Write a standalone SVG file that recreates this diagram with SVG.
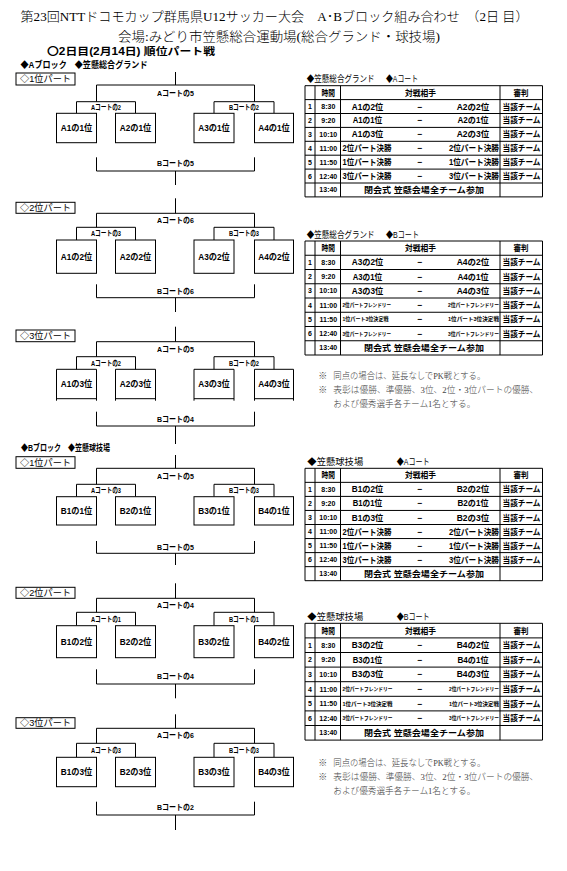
<svg xmlns="http://www.w3.org/2000/svg" width="567" height="871" viewBox="0 0 567 871">
<style>
text{dominant-baseline:central;fill:#000}
.s{font-family:"Liberation Serif","Noto Sans CJK JP",serif;font-weight:300}
.g{font-family:"Liberation Sans","Noto Sans CJK JP",sans-serif}
.b{font-weight:700}
.c{text-anchor:middle}
.e{text-anchor:end}
.ln{fill:none;stroke:#000;stroke-width:1}
.bx{fill:#fff;stroke:#000;stroke-width:1}
.t1{font-size:13px}
.t2{font-size:13px}
.h10{font-size:10px}
.h9{font-size:9px}
.lb{font-size:9px}
.bl{font-size:9px}
.tl{font-size:8px}
.sl{font-size:7.5px}
.th{font-size:9px}
.cell{font-size:8.5px}
.num{font-size:7px}
.tm{font-size:7px}
.sm{font-size:5.5px}
.nt{font-size:9px;fill:#444}
</style>
<rect width="567" height="871" fill="#fff"/>

<g id="title">
<text class="s t1" x="20.5" y="16" textLength="508" lengthAdjust="spacingAndGlyphs">第23回NTTドコモカップ群馬県U12サッカー大会　A･Bブロック組み合わせ　（2日 目）</text>
<text class="s t2" x="118" y="36" textLength="322" lengthAdjust="spacingAndGlyphs">会場:みどり市笠懸総合運動場(総合グランド・球技場)</text>
<text class="g b h10" x="47" y="51" textLength="168" lengthAdjust="spacingAndGlyphs">〇2日目(2月14日) 順位パート戦</text>
<text class="g b h9" x="20.5" y="64.5" textLength="127" lengthAdjust="spacingAndGlyphs">◆Aブロック　◆笠懸総合グランド</text>
<text class="g b h9" x="21" y="448.3" textLength="89" lengthAdjust="spacingAndGlyphs">◆Bブロック　◆笠懸球技場</text>
</g>

<!-- connectors -->
<g id="connectors" class="ln">
<path d="M175.5 72V85M96.5 101.7V85H254.5V101.7M76.5 113.3V101.7H135.5V113.3M214 113.3V101.7H274V113.3M96.5 157.3V171H254.5V157.3M175.5 171V185"/>
<path d="M175.5 198.3V213.3M96.5 227.3V213.3H254.5V227.3M76.5 240V227.3H135.5V240M214 240V227.3H274V240M96.5 284.3V297.7H254.5V284.3M175.5 297.7V312"/>
<path d="M175.5 326.7V341.7M96.5 356.7V341.7H254.5V356.7M76.5 369.3V356.7H135.5V369.3M214 369.3V356.7H274V369.3M96.5 411.7V426H254.5V411.7M175.5 426V444"/>
<path d="M175.5 455V468.3M96.5 484.3V468.3H254.5V484.3M76.5 496.7V484.3H135.5V496.7M214 496.7V484.3H274V496.7M96.5 541V553.3H254.5V541M175.5 553.3V565"/>
<path d="M175.5 583.3V598.3M96.5 612.3V598.3H254.5V612.3M76.5 625.7V612.3H135.5V625.7M214 625.7V612.3H274V625.7M96.5 669.3V684H254.5V669.3M175.5 684V698.3"/>
<path d="M175.5 714.3V728.3M96.5 743.3V728.3H254.5V743.3M76.5 757.3V743.3H135.5V757.3M214 757.3V743.3H274V757.3M96.5 801.7V815H254.5V801.7M175.5 815V830"/>
</g>

<!-- bracket labels -->
<g id="court-labels" class="g b">
<text class="tl c" x="175.5" y="93.3" textLength="37" lengthAdjust="spacingAndGlyphs">Aコートの5</text>
<text class="sl c" x="106" y="107.5" textLength="30" lengthAdjust="spacingAndGlyphs">Aコートの2</text>
<text class="sl c" x="244" y="107.5" textLength="30" lengthAdjust="spacingAndGlyphs">Bコートの2</text>
<text class="tl c" x="175.5" y="163.5" textLength="37" lengthAdjust="spacingAndGlyphs">Bコートの5</text>

<text class="tl c" x="175.5" y="220.8" textLength="37" lengthAdjust="spacingAndGlyphs">Aコートの6</text>
<text class="sl c" x="106" y="233.7" textLength="30" lengthAdjust="spacingAndGlyphs">Aコートの3</text>
<text class="sl c" x="244" y="233.7" textLength="30" lengthAdjust="spacingAndGlyphs">Bコートの3</text>
<text class="tl c" x="175.5" y="291.5" textLength="37" lengthAdjust="spacingAndGlyphs">Bコートの6</text>

<text class="tl c" x="175.5" y="349" textLength="37" lengthAdjust="spacingAndGlyphs">Aコートの5</text>
<text class="sl c" x="106" y="363" textLength="30" lengthAdjust="spacingAndGlyphs">Aコートの2</text>
<text class="sl c" x="244" y="363" textLength="30" lengthAdjust="spacingAndGlyphs">Bコートの2</text>
<text class="tl c" x="175.5" y="419" textLength="37" lengthAdjust="spacingAndGlyphs">Bコートの4</text>

<text class="tl c" x="175.5" y="476.7" textLength="37" lengthAdjust="spacingAndGlyphs">Aコートの5</text>
<text class="sl c" x="106" y="490.5" textLength="30" lengthAdjust="spacingAndGlyphs">Aコートの3</text>
<text class="sl c" x="244" y="490.5" textLength="30" lengthAdjust="spacingAndGlyphs">Bコートの3</text>
<text class="tl c" x="175.5" y="547" textLength="37" lengthAdjust="spacingAndGlyphs">Bコートの5</text>

<text class="tl c" x="175.5" y="605.5" textLength="37" lengthAdjust="spacingAndGlyphs">Aコートの4</text>
<text class="sl c" x="106" y="619" textLength="30" lengthAdjust="spacingAndGlyphs">Aコートの1</text>
<text class="sl c" x="244" y="619" textLength="30" lengthAdjust="spacingAndGlyphs">Bコートの1</text>
<text class="tl c" x="175.5" y="676.7" textLength="37" lengthAdjust="spacingAndGlyphs">Bコートの4</text>

<text class="tl c" x="175.5" y="735" textLength="37" lengthAdjust="spacingAndGlyphs">Aコートの6</text>
<text class="sl c" x="106" y="750" textLength="30" lengthAdjust="spacingAndGlyphs">Aコートの3</text>
<text class="sl c" x="244" y="750" textLength="30" lengthAdjust="spacingAndGlyphs">Bコートの3</text>
<text class="tl c" x="175.5" y="807.7" textLength="37" lengthAdjust="spacingAndGlyphs">Bコートの2</text>
</g>

<!-- part labels -->
<g id="part-a1"><rect class="bx" x="16" y="73" width="59" height="12"/><text class="g lb c" x="45.5" y="79" textLength="51" lengthAdjust="spacingAndGlyphs">◇1位パート</text></g>
<g id="part-a2"><rect class="bx" x="16" y="202.3" width="59" height="11"/><text class="g lb c" x="45.5" y="207.8" textLength="51" lengthAdjust="spacingAndGlyphs">◇2位パート</text></g>
<g id="part-a3"><rect class="bx" x="16" y="330" width="59" height="11.7"/><text class="g lb c" x="45.5" y="335.9" textLength="51" lengthAdjust="spacingAndGlyphs">◇3位パート</text></g>
<g id="part-b1"><rect class="bx" x="16" y="456.7" width="59" height="11.6"/><text class="g lb c" x="45.5" y="462.5" textLength="51" lengthAdjust="spacingAndGlyphs">◇1位パート</text></g>
<g id="part-b2"><rect class="bx" x="16" y="587.3" width="59" height="11"/><text class="g lb c" x="45.5" y="592.8" textLength="51" lengthAdjust="spacingAndGlyphs">◇2位パート</text></g>
<g id="part-b3"><rect class="bx" x="16" y="717.7" width="59" height="10.6"/><text class="g lb c" x="45.5" y="723" textLength="51" lengthAdjust="spacingAndGlyphs">◇3位パート</text></g>

<!-- team nodes -->
<g id="n-a1-1"><rect class="bx" x="56.5" y="113.3" width="40" height="29.4"/><text class="g b bl c" x="76.5" y="128" textLength="31.5" lengthAdjust="spacingAndGlyphs">A1の1位</text></g>
<g id="n-a2-1"><rect class="bx" x="115.5" y="113.3" width="40" height="29.4"/><text class="g b bl c" x="135.5" y="128" textLength="31.5" lengthAdjust="spacingAndGlyphs">A2の1位</text></g>
<g id="n-a3-1"><rect class="bx" x="194" y="113.3" width="40" height="29.4"/><text class="g b bl c" x="214" y="128" textLength="31.5" lengthAdjust="spacingAndGlyphs">A3の1位</text></g>
<g id="n-a4-1"><rect class="bx" x="254.5" y="113.3" width="39" height="29.4"/><text class="g b bl c" x="274" y="128" textLength="31.5" lengthAdjust="spacingAndGlyphs">A4の1位</text></g>

<g id="n-a1-2"><rect class="bx" x="56.5" y="240" width="40" height="33.3"/><text class="g b bl c" x="76.5" y="256.7" textLength="31.5" lengthAdjust="spacingAndGlyphs">A1の2位</text></g>
<g id="n-a2-2"><rect class="bx" x="115.5" y="240" width="40" height="33.3"/><text class="g b bl c" x="135.5" y="256.7" textLength="31.5" lengthAdjust="spacingAndGlyphs">A2の2位</text></g>
<g id="n-a3-2"><rect class="bx" x="194" y="240" width="40" height="33.3"/><text class="g b bl c" x="214" y="256.7" textLength="31.5" lengthAdjust="spacingAndGlyphs">A3の2位</text></g>
<g id="n-a4-2"><rect class="bx" x="254.5" y="240" width="39" height="33.3"/><text class="g b bl c" x="274" y="256.7" textLength="31.5" lengthAdjust="spacingAndGlyphs">A4の2位</text></g>

<g id="n-a1-3"><path class="ln" d="M56.5 369.3H96.5V400.7M56.5 369.3V400.7M56.5 398.7H96.5"/><text class="g b bl c" x="76.5" y="384" textLength="31.5" lengthAdjust="spacingAndGlyphs">A1の3位</text></g>
<g id="n-a2-3"><path class="ln" d="M115.5 369.3H155.5V400.7M115.5 369.3V400.7M115.5 398.7H155.5"/><text class="g b bl c" x="135.5" y="384" textLength="31.5" lengthAdjust="spacingAndGlyphs">A2の3位</text></g>
<g id="n-a3-3"><path class="ln" d="M194 369.3H234V400.7M194 369.3V400.7M194 398.7H234"/><text class="g b bl c" x="214" y="384" textLength="31.5" lengthAdjust="spacingAndGlyphs">A3の3位</text></g>
<g id="n-a4-3"><path class="ln" d="M254.5 369.3H293.5V400.7M254.5 369.3V400.7M254.5 398.7H293.5"/><text class="g b bl c" x="274" y="384" textLength="31.5" lengthAdjust="spacingAndGlyphs">A4の3位</text></g>

<g id="n-b1-1"><rect class="bx" x="56.5" y="496.7" width="40" height="28.3"/><text class="g b bl c" x="76.5" y="511" textLength="31.5" lengthAdjust="spacingAndGlyphs">B1の1位</text></g>
<g id="n-b2-1"><rect class="bx" x="115.5" y="496.7" width="40" height="28.3"/><text class="g b bl c" x="135.5" y="511" textLength="31.5" lengthAdjust="spacingAndGlyphs">B2の1位</text></g>
<g id="n-b3-1"><rect class="bx" x="194" y="496.7" width="40" height="28.3"/><text class="g b bl c" x="214" y="511" textLength="31.5" lengthAdjust="spacingAndGlyphs">B3の1位</text></g>
<g id="n-b4-1"><rect class="bx" x="254.5" y="496.7" width="39" height="28.3"/><text class="g b bl c" x="274" y="511" textLength="31.5" lengthAdjust="spacingAndGlyphs">B4の1位</text></g>

<g id="n-b1-2"><rect class="bx" x="56.5" y="625.7" width="40" height="32"/><text class="g b bl c" x="76.5" y="641.7" textLength="31.5" lengthAdjust="spacingAndGlyphs">B1の2位</text></g>
<g id="n-b2-2"><rect class="bx" x="115.5" y="625.7" width="40" height="32"/><text class="g b bl c" x="135.5" y="641.7" textLength="31.5" lengthAdjust="spacingAndGlyphs">B2の2位</text></g>
<g id="n-b3-2"><rect class="bx" x="194" y="625.7" width="40" height="32"/><text class="g b bl c" x="214" y="641.7" textLength="31.5" lengthAdjust="spacingAndGlyphs">B3の2位</text></g>
<g id="n-b4-2"><rect class="bx" x="254.5" y="625.7" width="39" height="32"/><text class="g b bl c" x="274" y="641.7" textLength="31.5" lengthAdjust="spacingAndGlyphs">B4の2位</text></g>

<g id="n-b1-3"><rect class="bx" x="56.5" y="757.3" width="40" height="29.4"/><text class="g b bl c" x="76.5" y="772" textLength="31.5" lengthAdjust="spacingAndGlyphs">B1の3位</text></g>
<g id="n-b2-3"><rect class="bx" x="115.5" y="757.3" width="40" height="29.4"/><text class="g b bl c" x="135.5" y="772" textLength="31.5" lengthAdjust="spacingAndGlyphs">B2の3位</text></g>
<g id="n-b3-3"><rect class="bx" x="194" y="757.3" width="40" height="29.4"/><text class="g b bl c" x="214" y="772" textLength="31.5" lengthAdjust="spacingAndGlyphs">B3の3位</text></g>
<g id="n-b4-3"><rect class="bx" x="254.5" y="757.3" width="39" height="29.4"/><text class="g b bl c" x="274" y="772" textLength="31.5" lengthAdjust="spacingAndGlyphs">B4の3位</text></g>

<!-- TABLE 1 -->
<g id="table-ground-a">
<text class="g th" x="306.7" y="79" textLength="68" lengthAdjust="spacingAndGlyphs">◆笠懸総合グランド</text>
<text class="g th" x="386" y="79" textLength="32" lengthAdjust="spacingAndGlyphs">◆Aコート</text>
<path class="ln" d="M305 85.7H542.5V196.9H305ZM305 99.6H542.5M305 113.5H542.5M305 127.4H542.5M305 141.3H542.5M305 155.2H542.5M305 169.1H542.5M305 183H542.5M315 85.7V196.9M340.5 85.7V196.9M500 85.7V196.9"/>
<g class="g b">
<text class="cell c" x="328.3" y="92.65" textLength="13.5" lengthAdjust="spacingAndGlyphs">時間</text>
<text class="cell c" x="420.5" y="92.65" textLength="31" lengthAdjust="spacingAndGlyphs">対戦相手</text>
<text class="cell c" x="521" y="92.65" textLength="15" lengthAdjust="spacingAndGlyphs">審判</text>
<text class="num c" x="310" y="106.55">1</text><text class="num c" x="310" y="120.45">2</text><text class="num c" x="310" y="134.35">3</text><text class="num c" x="310" y="148.25">4</text><text class="num c" x="310" y="162.15">5</text><text class="num c" x="310" y="176.05">6</text>
<text class="tm c" x="328.3" y="106.55">8:30</text><text class="tm c" x="328.3" y="120.45">9:20</text><text class="tm c" x="328.3" y="134.35">10:10</text><text class="tm c" x="328.3" y="148.25">11:00</text><text class="tm c" x="328.3" y="162.15">11:50</text><text class="tm c" x="328.3" y="176.05">12:40</text><text class="tm c" x="328.3" y="189.95">13:40</text>
<text class="cell c" x="367.5" y="106.55" textLength="31.5" lengthAdjust="spacingAndGlyphs">A1の2位</text>
<text class="cell c" x="367.5" y="120.45" textLength="29.5" lengthAdjust="spacingAndGlyphs">A1の1位</text>
<text class="cell c" x="367.5" y="134.35" textLength="31.5" lengthAdjust="spacingAndGlyphs">A1の3位</text>
<text class="cell" x="342.5" y="148.25" textLength="49" lengthAdjust="spacingAndGlyphs">2位パート決勝</text>
<text class="cell" x="342.5" y="162.15" textLength="49" lengthAdjust="spacingAndGlyphs">1位パート決勝</text>
<text class="cell" x="342.5" y="176.05" textLength="49" lengthAdjust="spacingAndGlyphs">3位パート決勝</text>
<text class="cell c" x="420" y="106.55">−</text><text class="cell c" x="420" y="120.45">−</text><text class="cell c" x="420" y="134.35">−</text><text class="cell c" x="420" y="148.25">−</text><text class="cell c" x="420" y="162.15">−</text><text class="cell c" x="420" y="176.05">−</text>
<text class="cell c" x="473" y="106.55" textLength="32.5" lengthAdjust="spacingAndGlyphs">A2の2位</text>
<text class="cell c" x="473" y="120.45" textLength="31" lengthAdjust="spacingAndGlyphs">A2の1位</text>
<text class="cell c" x="473" y="134.35" textLength="32.5" lengthAdjust="spacingAndGlyphs">A2の3位</text>
<text class="cell e" x="499" y="148.25" textLength="50" lengthAdjust="spacingAndGlyphs">2位パート決勝</text>
<text class="cell e" x="499" y="162.15" textLength="50" lengthAdjust="spacingAndGlyphs">1位パート決勝</text>
<text class="cell e" x="499" y="176.05" textLength="50" lengthAdjust="spacingAndGlyphs">3位パート決勝</text>
<text class="cell c" x="521.5" y="106.55" textLength="38" lengthAdjust="spacingAndGlyphs">当該チーム</text>
<text class="cell c" x="521.5" y="120.45" textLength="38" lengthAdjust="spacingAndGlyphs">当該チーム</text>
<text class="cell c" x="521.5" y="134.35" textLength="38" lengthAdjust="spacingAndGlyphs">当該チーム</text>
<text class="cell c" x="521.5" y="148.25" textLength="38" lengthAdjust="spacingAndGlyphs">当該チーム</text>
<text class="cell c" x="521.5" y="162.15" textLength="38" lengthAdjust="spacingAndGlyphs">当該チーム</text>
<text class="cell c" x="521.5" y="176.05" textLength="38" lengthAdjust="spacingAndGlyphs">当該チーム</text>
<text class="cell c" x="424" y="189.95" textLength="120" lengthAdjust="spacingAndGlyphs">閉会式  笠懸会場全チーム参加</text>
</g>
</g>

<!-- TABLE 2 -->
<g id="table-ground-b">
<text class="g th" x="306.7" y="235" textLength="68" lengthAdjust="spacingAndGlyphs">◆笠懸総合グランド</text>
<text class="g th" x="386" y="235" textLength="33" lengthAdjust="spacingAndGlyphs">◆Bコート</text>
<path class="ln" d="M305 241H542.5V355H305ZM305 255.25H542.5M305 269.5H542.5M305 283.75H542.5M305 298H542.5M305 312.25H542.5M305 326.5H542.5M305 340.75H542.5M315 241V355M340.5 241V355M500 241V355"/>
<g class="g b">
<text class="cell c" x="328.3" y="248.1" textLength="13.5" lengthAdjust="spacingAndGlyphs">時間</text>
<text class="cell c" x="420.5" y="248.1" textLength="31" lengthAdjust="spacingAndGlyphs">対戦相手</text>
<text class="cell c" x="521" y="248.1" textLength="15" lengthAdjust="spacingAndGlyphs">審判</text>
<text class="num c" x="310" y="262.4">1</text><text class="num c" x="310" y="276.6">2</text><text class="num c" x="310" y="290.9">3</text><text class="num c" x="310" y="305.1">4</text><text class="num c" x="310" y="319.4">5</text><text class="num c" x="310" y="333.6">6</text>
<text class="tm c" x="328.3" y="262.4">8:30</text><text class="tm c" x="328.3" y="276.6">9:20</text><text class="tm c" x="328.3" y="290.9">10:10</text><text class="tm c" x="328.3" y="305.1">11:00</text><text class="tm c" x="328.3" y="319.4">11:50</text><text class="tm c" x="328.3" y="333.6">12:40</text><text class="tm c" x="328.3" y="347.9">13:40</text>
<text class="cell c" x="367.5" y="262.4" textLength="31.5" lengthAdjust="spacingAndGlyphs">A3の2位</text>
<text class="cell c" x="367.5" y="276.6" textLength="29.5" lengthAdjust="spacingAndGlyphs">A3の1位</text>
<text class="cell c" x="367.5" y="290.9" textLength="31.5" lengthAdjust="spacingAndGlyphs">A3の3位</text>
<text class="sm" x="342.5" y="305.1" textLength="48.5" lengthAdjust="spacingAndGlyphs">2位パートフレンドリー</text>
<text class="sm" x="342.5" y="319.4" textLength="46" lengthAdjust="spacingAndGlyphs">1位パート3位決定戦</text>
<text class="sm" x="342.5" y="333.6" textLength="48.5" lengthAdjust="spacingAndGlyphs">3位パートフレンドリー</text>
<text class="cell c" x="420" y="262.4">−</text><text class="cell c" x="420" y="276.6">−</text><text class="cell c" x="420" y="290.9">−</text><text class="cell c" x="420" y="305.1">−</text><text class="cell c" x="420" y="319.4">−</text><text class="cell c" x="420" y="333.6">−</text>
<text class="cell c" x="473" y="262.4" textLength="32.5" lengthAdjust="spacingAndGlyphs">A4の2位</text>
<text class="cell c" x="473" y="276.6" textLength="31" lengthAdjust="spacingAndGlyphs">A4の1位</text>
<text class="cell c" x="473" y="290.9" textLength="32.5" lengthAdjust="spacingAndGlyphs">A4の3位</text>
<text class="sm e" x="499" y="305.1" textLength="51" lengthAdjust="spacingAndGlyphs">2位パートフレンドリー</text>
<text class="sm e" x="499" y="319.4" textLength="51" lengthAdjust="spacingAndGlyphs">1位パート3位決定戦</text>
<text class="sm e" x="499" y="333.6" textLength="51" lengthAdjust="spacingAndGlyphs">3位パートフレンドリー</text>
<text class="cell c" x="521.5" y="262.4" textLength="38" lengthAdjust="spacingAndGlyphs">当該チーム</text>
<text class="cell c" x="521.5" y="276.6" textLength="38" lengthAdjust="spacingAndGlyphs">当該チーム</text>
<text class="cell c" x="521.5" y="290.9" textLength="38" lengthAdjust="spacingAndGlyphs">当該チーム</text>
<text class="cell c" x="521.5" y="305.1" textLength="38" lengthAdjust="spacingAndGlyphs">当該チーム</text>
<text class="cell c" x="521.5" y="319.4" textLength="38" lengthAdjust="spacingAndGlyphs">当該チーム</text>
<text class="cell c" x="521.5" y="333.6" textLength="38" lengthAdjust="spacingAndGlyphs">当該チーム</text>
<text class="cell c" x="424" y="347.9" textLength="120" lengthAdjust="spacingAndGlyphs">閉会式  笠懸会場全チーム参加</text>
</g>
</g>

<g id="notes-a" class="s">
<text class="nt" x="318.3" y="375.5">※</text><text class="nt" x="333.3" y="375.5" textLength="152" lengthAdjust="spacingAndGlyphs">同点の場合は、延長なしでPK戦とする。</text>
<text class="nt" x="318.3" y="390">※</text><text class="nt" x="333.3" y="390" textLength="205" lengthAdjust="spacingAndGlyphs">表彰は優勝、準優勝、3位、2位・3位パートの優勝、</text>
<text class="nt" x="333.3" y="404" textLength="142" lengthAdjust="spacingAndGlyphs">および優秀選手各チーム1名とする。</text>
</g>

<!-- TABLE 3 -->
<g id="table-field-a">
<text class="g th" x="307.3" y="461.7" textLength="56" lengthAdjust="spacingAndGlyphs">◆笠懸球技場</text>
<text class="g th" x="396.7" y="461.7" textLength="33" lengthAdjust="spacingAndGlyphs">◆Aコート</text>
<path class="ln" d="M305 468.3H542.5V580.7H305ZM305 482.35H542.5M305 496.4H542.5M305 510.45H542.5M305 524.5H542.5M305 538.55H542.5M305 552.6H542.5M305 566.65H542.5M315 468.3V580.7M340.5 468.3V580.7M500 468.3V580.7"/>
<g class="g b">
<text class="cell c" x="328.3" y="475.3" textLength="13.5" lengthAdjust="spacingAndGlyphs">時間</text>
<text class="cell c" x="420.5" y="475.3" textLength="31" lengthAdjust="spacingAndGlyphs">対戦相手</text>
<text class="cell c" x="521" y="475.3" textLength="15" lengthAdjust="spacingAndGlyphs">審判</text>
<text class="num c" x="310" y="489.4">1</text><text class="num c" x="310" y="503.4">2</text><text class="num c" x="310" y="517.5">3</text><text class="num c" x="310" y="531.5">4</text><text class="num c" x="310" y="545.6">5</text><text class="num c" x="310" y="559.6">6</text>
<text class="tm c" x="328.3" y="489.4">8:30</text><text class="tm c" x="328.3" y="503.4">9:20</text><text class="tm c" x="328.3" y="517.5">10:10</text><text class="tm c" x="328.3" y="531.5">11:00</text><text class="tm c" x="328.3" y="545.6">11:50</text><text class="tm c" x="328.3" y="559.6">12:40</text><text class="tm c" x="328.3" y="573.7">13:40</text>
<text class="cell c" x="367.5" y="489.4" textLength="31.5" lengthAdjust="spacingAndGlyphs">B1の2位</text>
<text class="cell c" x="367.5" y="503.4" textLength="29.5" lengthAdjust="spacingAndGlyphs">B1の1位</text>
<text class="cell c" x="367.5" y="517.5" textLength="31.5" lengthAdjust="spacingAndGlyphs">B1の3位</text>
<text class="cell" x="342.5" y="531.5" textLength="49" lengthAdjust="spacingAndGlyphs">2位パート決勝</text>
<text class="cell" x="342.5" y="545.6" textLength="49" lengthAdjust="spacingAndGlyphs">1位パート決勝</text>
<text class="cell" x="342.5" y="559.6" textLength="49" lengthAdjust="spacingAndGlyphs">3位パート決勝</text>
<text class="cell c" x="420" y="489.4">−</text><text class="cell c" x="420" y="503.4">−</text><text class="cell c" x="420" y="517.5">−</text><text class="cell c" x="420" y="531.5">−</text><text class="cell c" x="420" y="545.6">−</text><text class="cell c" x="420" y="559.6">−</text>
<text class="cell c" x="473" y="489.4" textLength="32.5" lengthAdjust="spacingAndGlyphs">B2の2位</text>
<text class="cell c" x="473" y="503.4" textLength="31" lengthAdjust="spacingAndGlyphs">B2の1位</text>
<text class="cell c" x="473" y="517.5" textLength="32.5" lengthAdjust="spacingAndGlyphs">B2の3位</text>
<text class="cell e" x="499" y="531.5" textLength="50" lengthAdjust="spacingAndGlyphs">2位パート決勝</text>
<text class="cell e" x="499" y="545.6" textLength="50" lengthAdjust="spacingAndGlyphs">1位パート決勝</text>
<text class="cell e" x="499" y="559.6" textLength="50" lengthAdjust="spacingAndGlyphs">3位パート決勝</text>
<text class="cell c" x="521.5" y="489.4" textLength="38" lengthAdjust="spacingAndGlyphs">当該チーム</text>
<text class="cell c" x="521.5" y="503.4" textLength="38" lengthAdjust="spacingAndGlyphs">当該チーム</text>
<text class="cell c" x="521.5" y="517.5" textLength="38" lengthAdjust="spacingAndGlyphs">当該チーム</text>
<text class="cell c" x="521.5" y="531.5" textLength="38" lengthAdjust="spacingAndGlyphs">当該チーム</text>
<text class="cell c" x="521.5" y="545.6" textLength="38" lengthAdjust="spacingAndGlyphs">当該チーム</text>
<text class="cell c" x="521.5" y="559.6" textLength="38" lengthAdjust="spacingAndGlyphs">当該チーム</text>
<text class="cell c" x="424" y="573.7" textLength="120" lengthAdjust="spacingAndGlyphs">閉会式  笠懸会場全チーム参加</text>
</g>
</g>

<!-- TABLE 4 -->
<g id="table-field-b">
<text class="g th" x="307.3" y="616.7" textLength="56" lengthAdjust="spacingAndGlyphs">◆笠懸球技場</text>
<text class="g th" x="396.7" y="616.7" textLength="33" lengthAdjust="spacingAndGlyphs">◆Bコート</text>
<path class="ln" d="M305 623.3H542.5V740.1H305ZM305 637.9H542.5M305 652.5H542.5M305 667.1H542.5M305 681.7H542.5M305 696.3H542.5M305 710.9H542.5M305 725.5H542.5M315 623.3V740.1M340.5 623.3V740.1M500 623.3V740.1"/>
<g class="g b">
<text class="cell c" x="328.3" y="630.6" textLength="13.5" lengthAdjust="spacingAndGlyphs">時間</text>
<text class="cell c" x="420.5" y="630.6" textLength="31" lengthAdjust="spacingAndGlyphs">対戦相手</text>
<text class="cell c" x="521" y="630.6" textLength="15" lengthAdjust="spacingAndGlyphs">審判</text>
<text class="num c" x="310" y="645.2">1</text><text class="num c" x="310" y="659.8">2</text><text class="num c" x="310" y="674.4">3</text><text class="num c" x="310" y="689">4</text><text class="num c" x="310" y="703.6">5</text><text class="num c" x="310" y="718.2">6</text>
<text class="tm c" x="328.3" y="645.2">8:30</text><text class="tm c" x="328.3" y="659.8">9:20</text><text class="tm c" x="328.3" y="674.4">10:10</text><text class="tm c" x="328.3" y="689">11:00</text><text class="tm c" x="328.3" y="703.6">11:50</text><text class="tm c" x="328.3" y="718.2">12:40</text><text class="tm c" x="328.3" y="732.8">13:40</text>
<text class="cell c" x="367.5" y="645.2" textLength="31.5" lengthAdjust="spacingAndGlyphs">B3の2位</text>
<text class="cell c" x="367.5" y="659.8" textLength="29.5" lengthAdjust="spacingAndGlyphs">B3の1位</text>
<text class="cell c" x="367.5" y="674.4" textLength="31.5" lengthAdjust="spacingAndGlyphs">B3の3位</text>
<text class="sm" x="342.5" y="689" textLength="50" lengthAdjust="spacingAndGlyphs">2位パートフレンドリー</text>
<text class="sm" x="342.5" y="703.6" textLength="50" lengthAdjust="spacingAndGlyphs">1位パート3位決定戦</text>
<text class="sm" x="342.5" y="718.2" textLength="50" lengthAdjust="spacingAndGlyphs">3位パートフレンドリー</text>
<text class="cell c" x="420" y="645.2">−</text><text class="cell c" x="420" y="659.8">−</text><text class="cell c" x="420" y="674.4">−</text><text class="cell c" x="420" y="689">−</text><text class="cell c" x="420" y="703.6">−</text><text class="cell c" x="420" y="718.2">−</text>
<text class="cell c" x="473" y="645.2" textLength="32.5" lengthAdjust="spacingAndGlyphs">B4の2位</text>
<text class="cell c" x="473" y="659.8" textLength="31" lengthAdjust="spacingAndGlyphs">B4の1位</text>
<text class="cell c" x="473" y="674.4" textLength="32.5" lengthAdjust="spacingAndGlyphs">B4の3位</text>
<text class="sm e" x="499" y="689" textLength="50" lengthAdjust="spacingAndGlyphs">2位パートフレンドリー</text>
<text class="sm e" x="499" y="703.6" textLength="50" lengthAdjust="spacingAndGlyphs">1位パート3位決定戦</text>
<text class="sm e" x="499" y="718.2" textLength="50" lengthAdjust="spacingAndGlyphs">3位パートフレンドリー</text>
<text class="cell c" x="521.5" y="645.2" textLength="38" lengthAdjust="spacingAndGlyphs">当該チーム</text>
<text class="cell c" x="521.5" y="659.8" textLength="38" lengthAdjust="spacingAndGlyphs">当該チーム</text>
<text class="cell c" x="521.5" y="674.4" textLength="38" lengthAdjust="spacingAndGlyphs">当該チーム</text>
<text class="cell c" x="521.5" y="689" textLength="38" lengthAdjust="spacingAndGlyphs">当該チーム</text>
<text class="cell c" x="521.5" y="703.6" textLength="38" lengthAdjust="spacingAndGlyphs">当該チーム</text>
<text class="cell c" x="521.5" y="718.2" textLength="38" lengthAdjust="spacingAndGlyphs">当該チーム</text>
<text class="cell c" x="424" y="732.8" textLength="120" lengthAdjust="spacingAndGlyphs">閉会式  笠懸会場全チーム参加</text>
</g>
</g>

<g id="notes-b" class="s">
<text class="nt" x="318.3" y="762.5">※</text><text class="nt" x="333.3" y="762.5" textLength="152" lengthAdjust="spacingAndGlyphs">同点の場合は、延長なしでPK戦とする。</text>
<text class="nt" x="318.3" y="777">※</text><text class="nt" x="333.3" y="777" textLength="205" lengthAdjust="spacingAndGlyphs">表彰は優勝、準優勝、3位、2位・3位パートの優勝、</text>
<text class="nt" x="333.3" y="791" textLength="142" lengthAdjust="spacingAndGlyphs">および優秀選手各チーム1名とする。</text>
</g>
</svg>
